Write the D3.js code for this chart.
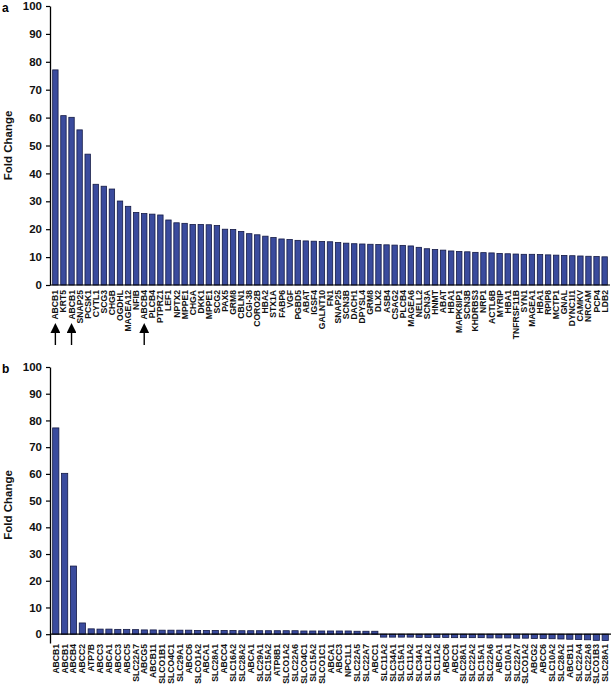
<!DOCTYPE html>
<html>
<head>
<meta charset="utf-8">
<script src="https://cdn.jsdelivr.net/npm/d3@7"></script>
<style>
  body { margin: 0; background: #fff; }
  svg text { font-family: "Liberation Sans", Arial, sans-serif; font-weight: bold; }
</style>
</head>
<body>
<div id="chart"></div>
<script>
// panel a: genes
const labelsA = ["ABCB1", "KRT5", "ABCB1", "SNAP25", "PCSK1", "CYTL1", "SCG3", "CHGB", "OGDHL", "MAGEA12",
  "NFIB", "ABCB4", "PLCB4", "PTPRZ1", "LEF1", "NPTX2", "MPPE1", "CHGA", "DKK1", "MPPE1",
  "SCG2", "PAX5", "GRM8", "CBLN1", "CGI-38", "CORO2B", "HBA2", "STX1A", "FABP6", "VGF",
  "PGBD5", "ABAT", "IGSF4", "GALNT10", "FN1", "SNAP25", "SCN3B", "DACH1", "DPYSL4", "GRM8",
  "DLX2", "ASB4", "CSAG2", "PLCB4", "MAGEA6", "NELL2", "SCN3A", "HNMT", "ABAT", "HBA1",
  "MAPK8IP1", "SCN3B", "KHDRBS3", "NRP1", "ACTL6B", "MYRIP", "HBA1", "TNFRSF11B", "SYN1", "MAGEA1",
  "HBA1", "RPIP8", "MCTP1", "GNAL", "DYNC1I1", "CAMKV", "NRCAM", "PCP4", "LDB2"];
const valuesA = [77.1, 60.7, 60.1, 55.6, 46.9, 36.1, 35.4, 34.4, 30.1, 28.2,
  26.0, 25.6, 25.4, 25.1, 23.3, 22.3, 22.1, 21.7, 21.7, 21.6,
  21.3, 20.0, 19.9, 19.2, 18.4, 18.0, 17.5, 17.0, 16.5, 16.3,
  16.0, 15.8, 15.7, 15.6, 15.5, 15.2, 15.0, 14.8, 14.7, 14.6,
  14.5, 14.4, 14.3, 14.2, 14.0, 13.5, 13.0, 12.7, 12.5, 12.2,
  12.0, 11.9, 11.7, 11.6, 11.5, 11.3, 11.2, 11.1, 11.0, 11.0,
  10.9, 10.8, 10.7, 10.6, 10.5, 10.4, 10.3, 10.2, 10.1];
// indices of the bars marked with arrows
const arrowsA = [0, 2, 11];

// panel b: transporters
const labelsB = ["ABCB1", "ABCB1", "ABCB4", "ABCC2", "ATP7B", "ABCC3", "ABCA1", "ABCC3", "ABCC5", "SLC22A7",
  "ABCG5", "ABCB11", "SLCO1B1", "SLCO4C1", "SLC29A1", "ABCC6", "SLCO1A2", "ABCA1", "SLC28A1", "ABCC4",
  "SLC16A2", "SLC28A2", "ABCA1", "SLC29A1", "SLC15A2", "ATP8B1", "SLCO1A2", "SLC22A6", "SLCO4C1", "SLC15A2",
  "SLCO1C1", "ABCA1", "ABCC3", "NPC1L1", "SLC22A5", "SLC22A7", "ABCC1", "SLC11A2", "SLC34A1", "SLC15A1",
  "SLC11A2", "SLC34A1", "SLC11A2", "SLC11A2", "ABCC6", "ABCC1", "SLC28A1", "SLC22A2", "SLC15A1", "SLC22A6",
  "ABCA1", "SLC10A1", "SLC22A7", "SLCO1A2", "ABCG2", "ABCC6", "SLC10A2", "SLC28A2", "ABCB11", "SLC22A4",
  "SLC22A8", "SLCO1B3", "SLC28A1"];
const valuesB = [77.2, 60.2, 25.5, 4.2, 2.0, 1.9, 1.9, 1.8, 1.8, 1.7,
  1.6, 1.6, 1.5, 1.5, 1.5, 1.5, 1.4, 1.4, 1.4, 1.4,
  1.4, 1.3, 1.3, 1.3, 1.3, 1.3, 1.3, 1.3, 1.2, 1.2,
  1.2, 1.2, 1.2, 1.2, 1.1, 1.1, 1.1, -1.1, -1.1, -1.1,
  -1.1, -1.2, -1.2, -1.2, -1.2, -1.3, -1.3, -1.3, -1.3, -1.4,
  -1.4, -1.4, -1.5, -1.5, -1.6, -1.6, -1.7, -1.8, -1.9, -2.0,
  -2.1, -2.3, -2.4];

const yTicks = [0, 10, 20, 30, 40, 50, 60, 70, 80, 90, 100];

const W = 612, H = 685;
const barFill = "#3a4b9d", barStroke = "#141a45";

const svg = d3.select("#chart").append("svg")
  .attr("width", W)
  .attr("height", H);

function drawPanel(opts) {
  const g = svg.append("g");

  let x = d3.scaleBand()
    .domain(d3.range(opts.labels.length))
    .range([opts.x0, opts.x1])
    .padding(opts.pad);

  let y = d3.scaleLinear()
    .domain([opts.yMin, 100])
    .range([opts.yBottom, opts.yTop]);

  // bars
  g.selectAll("rect.bar")
    .data(opts.values)
    .enter()
    .append("rect")
    .attr("class", "bar")
    .attr("x", (d, i) => x(i))
    .attr("y", d => y(Math.max(0, d)))
    .attr("width", x.bandwidth())
    .attr("height", d => Math.abs(y(d) - y(0)))
    .attr("fill", barFill)
    .attr("stroke", barStroke)
    .attr("stroke-width", 0.8);

  // Y-akse
  let yAxis = g.append("g")
    .attr("transform", "translate(" + opts.x0 + ",0)")
    .call(d3.axisLeft(y).tickValues(yTicks).tickSize(4).tickSizeOuter(0).tickPadding(4));
  yAxis.select(".domain").attr("stroke", "#000").attr("stroke-width", 1.3);
  yAxis.selectAll(".tick line").attr("stroke", "#000").attr("stroke-width", 1.2);
  yAxis.selectAll("text").style("font-size", "11.5px").attr("fill", "#111");

  // x baseline
  g.append("line")
    .attr("x1", opts.x0).attr("x2", opts.x1)
    .attr("y1", y(0)).attr("y2", y(0))
    .attr("stroke", "#000").attr("stroke-width", 1.2);

  // category labels, rotated
  g.selectAll("text.cat")
    .data(opts.labels)
    .enter()
    .append("text")
    .attr("class", "cat")
    .attr("transform", (d, i) => "translate(" + (x(i) + x.bandwidth() / 2 + 3) + "," + (opts.labelTop) + ")rotate(-90)")
    .attr("text-anchor", "end")
    .style("font-size", "8.6px")
    .attr("fill", "#111")
    .text(d => d);

  // axis title
  g.append("text")
    .attr("transform", "translate(12," + ((opts.yTop + opts.yBottom) / 2) + ")rotate(-90)")
    .attr("text-anchor", "middle")
    .style("font-size", "11.5px")
    .attr("fill", "#111")
    .text("Fold Change");

  // panel letter
  g.append("text")
    .attr("x", 2)
    .attr("y", opts.yTop + 6)
    .style("font-size", "12px")
    .attr("fill", "#000")
    .text(opts.letter);

  return { g: g, x: x, y: y };
}

const pa = drawPanel({
  labels: labelsA, values: valuesA, letter: "a",
  x0: 50, x1: 610, pad: 0.33, yMin: 0, yTop: 6, yBottom: 285, labelTop: 290
});

// arrows under panel a
svg.append("defs").append("marker")
  .attr("id", "head")
  .attr("viewBox", "0 0 10 10")
  .attr("refX", 5).attr("refY", 5)
  .attr("markerWidth", 7).attr("markerHeight", 7)
  .attr("orient", "auto")
  .append("path")
  .attr("d", "M0,0L10,5L0,10Z")
  .attr("fill", "#000");

pa.g.selectAll("line.arrow")
  .data(arrowsA)
  .enter()
  .append("line")
  .attr("class", "arrow")
  .attr("x1", i => pa.x(i) + pa.x.bandwidth() / 2)
  .attr("x2", i => pa.x(i) + pa.x.bandwidth() / 2)
  .attr("y1", 345)
  .attr("y2", 328)
  .attr("stroke", "#000")
  .attr("stroke-width", 1.4)
  .attr("marker-end", "url(#head)");

drawPanel({
  labels: labelsB, values: valuesB, letter: "b",
  x0: 50, x1: 611, pad: 0.3, yMin: -3.3, yTop: 367, yBottom: 643, labelTop: 644
});
</script>
</body>
</html>
